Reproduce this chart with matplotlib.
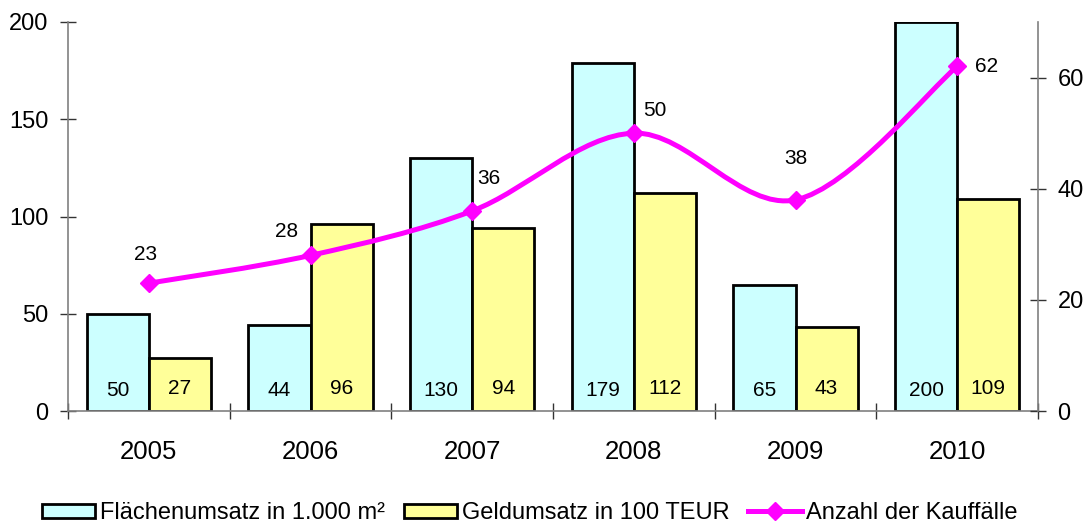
import numpy as np
import matplotlib.pyplot as plt
from matplotlib.path import Path
from matplotlib.patches import PathPatch, Patch
from matplotlib.lines import Line2D

plt.rcParams['font.family'] = ['Liberation Sans', 'DejaVu Sans']

# ===== data =====
years = ['2005', '2006', '2007', '2008', '2009', '2010']
flaeche = [50, 44, 130, 179, 65, 200]      # Flächenumsatz in 1.000 m²
geld = [27, 96, 94, 112, 43, 109]          # Geldumsatz in 100 TEUR
faelle = [23, 28, 36, 50, 38, 62]          # Anzahl der Kauffälle

# label offsets for the line values (points)
label_off = [(-2, 21), (-17, 17), (12, 23), (15, 16), (0, 30), (21, 0)]

C_CYAN = '#CCFFFF'
C_YELLOW = '#FFFF99'
C_MAG = '#FF00FF'
C_AXIS = '#808080'

fig = plt.figure(figsize=(10.86, 5.25), dpi=100)
ax = fig.add_axes([68 / 1086, 1 - 411 / 525, (1038 - 68) / 1086, (411 - 22) / 525])
ax2 = ax.twinx()

x = np.arange(len(years))
w = 0.385
ax.bar(x - w / 2, flaeche, w, color=C_CYAN, edgecolor='black', linewidth=2, zorder=2)
ax.bar(x + w / 2, geld, w, color=C_YELLOW, edgecolor='black', linewidth=2, zorder=2)

for i in range(len(years)):
    ax.annotate(str(flaeche[i]), (x[i] - w / 2, 0), xytext=(0, 15), textcoords='offset points',
                ha='center', va='center', fontsize=15)
    ax.annotate(str(geld[i]), (x[i] + w / 2, 0), xytext=(0, 16), textcoords='offset points',
                ha='center', va='center', fontsize=15)

ax.set_xlim(-0.5, len(years) - 0.5)
ax.set_ylim(0, 200)
ax2.set_ylim(0, 70)

# geglättete Linie (catmull-rom als bezier-pfad)
px = list(x.astype(float))
py = list(map(float, faelle))
verts = [(px[0], py[0])]
codes = [Path.MOVETO]
n = len(px)
for i in range(n - 1):
    i0 = max(i - 1, 0)
    i3 = min(i + 2, n - 1)
    c1 = (px[i] + (px[i + 1] - px[i0]) / 6, py[i] + (py[i + 1] - py[i0]) / 6)
    c2 = (px[i + 1] - (px[i3] - px[i]) / 6, py[i + 1] - (py[i3] - py[i]) / 6)
    verts += [c1, c2, (px[i + 1], py[i + 1])]
    codes += [Path.CURVE4] * 3
ax2.add_patch(PathPatch(Path(verts, codes), facecolor='none', edgecolor=C_MAG, lw=3.6,
                        capstyle='round', zorder=3))
ax2.plot(x, faelle, linestyle='none', marker='D', markersize=9, color=C_MAG, zorder=4)

for i, v in enumerate(faelle):
    ax2.annotate(str(v), (x[i], v), xytext=label_off[i], textcoords='offset points',
                 ha='center', va='center', fontsize=15)

# achsen
for a in (ax, ax2):
    a.spines['top'].set_visible(False)
    for s in ('left', 'right', 'bottom'):
        a.spines[s].set_color(C_AXIS)
        a.spines[s].set_linewidth(1.2)
ax.spines['right'].set_visible(False)
ax2.spines['left'].set_visible(False)
ax2.spines['bottom'].set_visible(False)

ax.set_yticks([0, 50, 100, 150, 200])
ax.tick_params(axis='y', direction='inout', length=12, width=1, color='#333333',
               labelsize=17, pad=8)
ax2.set_yticks([0, 20, 40, 60])
ax2.tick_params(axis='y', direction='inout', length=12, width=1, color='#333333',
                labelsize=17, pad=8)

ax.set_xticks(np.arange(len(years) + 1) - 0.5)
ax.set_xticklabels([])
ax.set_xticks(x, minor=True)
ax.set_xticklabels(years, minor=True)
ax.tick_params(axis='x', which='major', direction='inout', length=12, width=1, color='#333333')
ax.tick_params(axis='x', which='minor', length=0, labelsize=18.5, pad=21)

handles = [
    Patch(facecolor=C_CYAN, edgecolor='black', linewidth=2),
    Patch(facecolor=C_YELLOW, edgecolor='black', linewidth=2),
    Line2D([], [], color=C_MAG, lw=3.6, marker='D', markersize=9),
]
labels = ['Flächenumsatz in 1.000 m²', 'Geldumsatz in 100 TEUR', 'Anzahl der Kauffälle']
fig.legend(handles, labels, loc='center', bbox_to_anchor=(0.5 - 13 / 1086, 1 - 513 / 525), ncol=3,
           frameon=False, fontsize=17, handlelength=2.25, handleheight=0.55,
           handletextpad=0.2, columnspacing=0.8, borderaxespad=0)

fig.savefig('out.png', dpi=100)
